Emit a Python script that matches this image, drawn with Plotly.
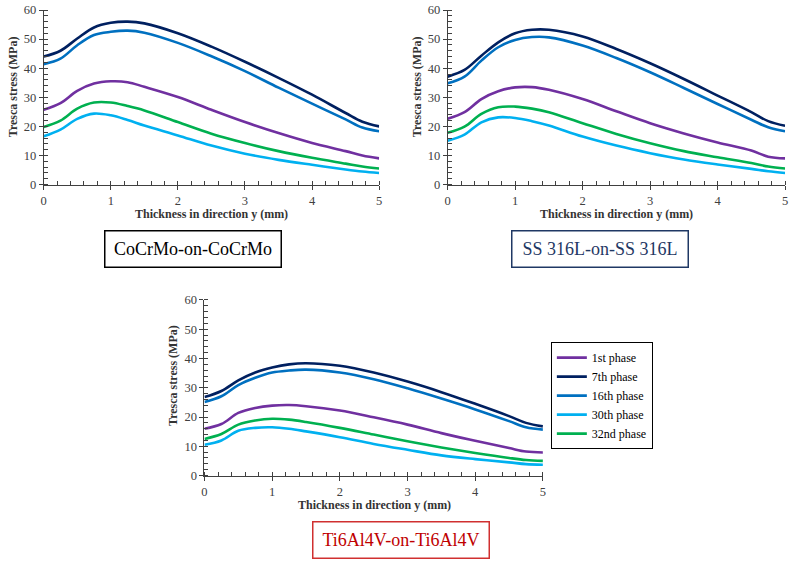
import plotly.graph_objects as go

x_mm = [0, 0.25, 0.5, 0.75, 1, 1.25, 1.5, 2, 2.5, 3, 3.5, 4, 4.5, 4.75, 5]
phases = ["1st phase", "7th phase", "16th phase", "30th phase", "32nd phase"]
colors = ["#7030A0", "#002060", "#0070C0", "#00B0F0", "#00B050"]

cocrmo_1st = [25.7, 28.0, 32.2, 34.7, 35.5, 35.2, 33.6, 30.1, 25.7, 21.5, 17.7, 14.3, 11.5, 10.0, 9.0]
cocrmo_7th = [44.0, 46.0, 50.2, 54.0, 55.6, 56.0, 55.4, 52.0, 47.4, 42.2, 36.7, 30.9, 24.6, 21.6, 20.0]
cocrmo_16th = [41.4, 43.3, 47.9, 51.4, 52.5, 52.9, 52.2, 48.7, 44.1, 39.0, 33.3, 27.8, 22.4, 19.6, 18.3]
cocrmo_30th = [16.6, 18.9, 22.6, 24.4, 23.8, 22.2, 20.3, 16.9, 13.4, 10.6, 8.5, 6.8, 5.2, 4.5, 4.0]
cocrmo_32nd = [19.8, 22.0, 26.1, 28.2, 28.2, 27.0, 25.5, 21.5, 17.5, 14.3, 11.5, 9.2, 7.2, 6.2, 5.5]

ss_1st = [22.6, 24.9, 29.4, 32.1, 33.4, 33.5, 32.6, 29.4, 25.2, 21.1, 17.6, 14.5, 11.7, 9.6, 9.0]
ss_7th = [37.1, 39.4, 44.3, 48.9, 52.0, 53.2, 53.2, 50.9, 46.6, 41.7, 36.3, 30.6, 24.9, 21.8, 20.2]
ss_16th = [34.8, 37.1, 42.6, 47.2, 49.7, 50.7, 50.6, 47.8, 43.5, 38.6, 33.2, 27.7, 22.3, 19.7, 18.3]
ss_30th = [15.1, 17.2, 21.4, 23.1, 22.9, 21.8, 20.3, 16.5, 13.4, 10.8, 8.6, 6.9, 5.4, 4.6, 4.0]
ss_32nd = [17.8, 19.9, 24.3, 26.6, 26.8, 26.1, 24.9, 21.1, 17.4, 14.2, 11.5, 9.4, 7.4, 6.2, 5.5]

ti_1st = [16.0, 17.6, 21.4, 23.1, 23.9, 24.1, 23.7, 22.2, 19.9, 17.4, 14.5, 11.9, 9.4, 8.2, 7.9]
ti_7th = [26.8, 28.9, 32.5, 35.2, 36.9, 38.0, 38.4, 37.5, 35.2, 32.1, 28.5, 24.5, 20.3, 18.0, 16.8]
ti_16th = [25.1, 27.1, 30.9, 33.4, 35.2, 35.9, 36.2, 35.2, 32.9, 29.8, 26.3, 22.6, 18.6, 16.5, 15.7]
ti_30th = [10.5, 12.0, 15.3, 16.3, 16.5, 16.0, 15.1, 13.1, 10.8, 8.8, 6.9, 5.6, 4.5, 3.9, 3.7]
ti_32nd = [12.5, 14.2, 17.4, 18.8, 19.4, 19.1, 18.3, 16.3, 14.0, 11.7, 9.6, 7.7, 6.0, 5.3, 5.0]

panels = [
    ("CoCrMo-on-CoCrMo", [cocrmo_1st, cocrmo_7th, cocrmo_16th, cocrmo_30th, cocrmo_32nd]),
    ("SS 316L-on-SS 316L", [ss_1st, ss_7th, ss_16th, ss_30th, ss_32nd]),
    ("Ti6Al4V-on-Ti6Al4V", [ti_1st, ti_7th, ti_16th, ti_30th, ti_32nd]),
]

W, H = 799, 565
# empirical vertical calibration of the rendered page
V_OFF, V_SCALE = 7.0, 0.972


def px(xp):
    return xp / W


def py(yp):
    return 1 - ((yp - V_OFF) / V_SCALE) / H


# plot boxes in window pixels: (left, right, top, bottom)
boxes = [(41, 379, 10, 184), (448, 788, 10, 184), (203, 544, 299, 474)]

fig = go.Figure()
serif = "Liberation Serif"

for i, (name, series) in enumerate(panels):
    xa = "x" if i == 0 else f"x{i+1}"
    ya = "y" if i == 0 else f"y{i+1}"
    for j, vals in enumerate(series):
        fig.add_trace(go.Scatter(
            x=x_mm, y=vals, mode="lines", name=phases[j],
            line=dict(color=colors[j], width=2.6, shape="spline", smoothing=1.0),
            xaxis=xa, yaxis=ya, showlegend=(i == 2), legendrank=j + 1,
        ))

axis_common = dict(
    showline=True, linecolor="#404040", linewidth=1, showgrid=False, zeroline=False,
    ticks="outside", ticklen=4, tickcolor="#404040", tickwidth=1,
    tickfont=dict(family=serif, size=12.5, color="#404040"),
)

for i, (l, r, t, b) in enumerate(boxes):
    xkey = "xaxis" if i == 0 else f"xaxis{i+1}"
    ykey = "yaxis" if i == 0 else f"yaxis{i+1}"
    yanchor = "y" if i == 0 else f"y{i+1}"
    xanchor = "x" if i == 0 else f"x{i+1}"
    fig.update_layout({
        xkey: dict(domain=[px(l), px(r)], range=[0, 5], dtick=1, anchor=yanchor,
                   minor=dict(dtick=0.2, ticks="inside", ticklen=4, tickcolor="#404040"),
                   **axis_common),
        ykey: dict(domain=[py(b), py(t)], range=[0, 60], dtick=10, anchor=xanchor,
                   minor=dict(dtick=2, ticks="inside", ticklen=4, tickcolor="#404040"),
                   **axis_common),
    })

annotations = []
ytitle_pos = [(10, 86), (417, 86), (172, 374)]
xtitle_pos = [(210, 213), (618, 213), (374, 503)]
for (xp, yp) in ytitle_pos:
    annotations.append(dict(text="<b>Tresca stress (MPa)</b>", x=px(xp), y=py(yp),
                            xref="paper", yref="paper", showarrow=False, textangle=-90,
                            font=dict(family=serif, size=12, color="#333333"),
                            xanchor="center", yanchor="middle"))
for (xp, yp) in xtitle_pos:
    annotations.append(dict(text="<b>Thickness in direction y (mm)</b>", x=px(xp), y=py(yp),
                            xref="paper", yref="paper", showarrow=False,
                            font=dict(family=serif, size=12, color="#333333"),
                            xanchor="center", yanchor="middle"))

title_boxes = [
    (panels[0][0], 191, 248, "#000000", "#000000"),
    (panels[1][0], 602, 248, "#1F3864", "#1F3864"),
    (panels[2][0], 401, 538, "#C00000", "#D03030"),
]
for text, cx, cy, fc, bc in title_boxes:
    annotations.append(dict(text=text, x=px(cx), y=py(cy), xref="paper", yref="paper",
                            showarrow=False, xanchor="center", yanchor="middle",
                            width=175, height=35, borderpad=0, bordercolor=bc, borderwidth=1.5,
                            font=dict(family=serif, size=18, color=fc), bgcolor="white"))

fig.update_layout(
    width=W, height=H, margin=dict(l=0, r=0, t=0, b=0),
    paper_bgcolor="white", plot_bgcolor="white",
    annotations=annotations,
    legend=dict(x=px(552), y=py(341), xanchor="left", yanchor="top",
                bordercolor="#000000", borderwidth=1, bgcolor="white",
                font=dict(family=serif, size=12, color="#000000"),
                itemwidth=30, tracegroupgap=0, traceorder="normal"),
)

fig.write_html(
    "out.html",
    config={"responsive": False, "displayModeBar": False},
    post_script="document.body.style.margin='0';document.body.style.overflow='hidden';",
)
